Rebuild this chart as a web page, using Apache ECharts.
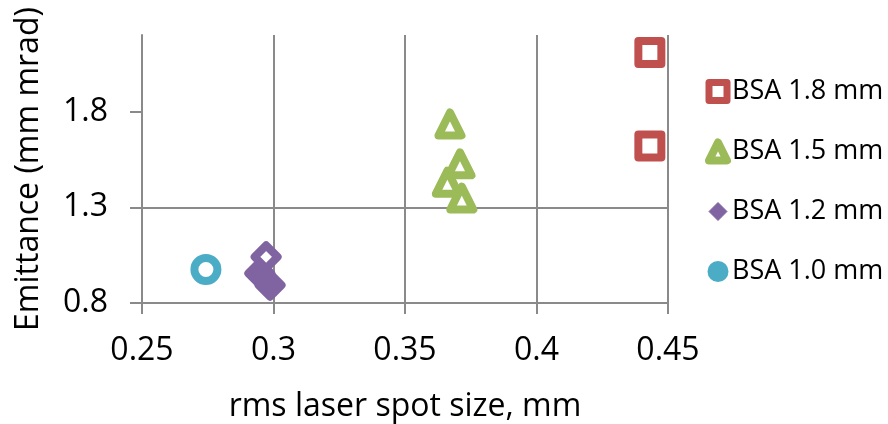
<!DOCTYPE html>
<html>
<head>
<meta charset="utf-8">
<script src="https://cdn.jsdelivr.net/npm/echarts@6/dist/echarts.min.js"></script>
<style>
  html, body { margin: 0; padding: 0; background: #fff; }
  #chart { width: 888px; height: 424px; }
</style>
</head>
<body>
<div id="chart"></div>
<script>
// valores
var bsa18X = [0.4431, 0.4431];
var bsa18Y = [2.109, 1.620];
var bsa15X = [0.3671, 0.3709, 0.3661, 0.3716];
var bsa15Y = [1.735, 1.527, 1.431, 1.348];
var bsa12X = [0.2948, 0.2987, 0.2972];
var bsa12Y = [0.955, 0.893, 1.041];
var bsa10X = [0.2743];
var bsa10Y = [0.975];

var nombres = ['BSA 1.8 mm', 'BSA 1.5 mm', 'BSA 1.2 mm', 'BSA 1.0 mm'];
var colores = ['#C0504D', '#9BBB59', '#8064A2', '#4BACC6'];
var simbolos = ['rect', 'triangle', 'diamond', 'circle'];
var ticksX = [0.25, 0.3, 0.35, 0.4, 0.45];
var ticksY = [0.8, 1.3, 1.8];
// en BSA 1.2 los dos puntos de abajo salen rellenos
var rellenos12 = [true, true, false];

var fuente = 'Open Sans';
var gris = '#8a8a8a';

function juntar(xs, ys, rellenos, color) {
  var res = [];
  for (var i = 0; i < xs.length; i++) {
    var p = { value: [xs[i], ys[i]] };
    if (rellenos && rellenos[i]) p.itemStyle = { color: color };
    res.push(p);
  }
  return res;
}

var datos = [
  juntar(bsa18X, bsa18Y),
  juntar(bsa15X, bsa15Y),
  juntar(bsa12X, bsa12Y, rellenos12, colores[2]),
  juntar(bsa10X, bsa10Y)
];

var series = [];
for (var i = 0; i < nombres.length; i++) {
  series.push({
    name: nombres[i],
    type: 'scatter',
    symbol: simbolos[i],
    symbolSize: 23,
    data: datos[i],
    itemStyle: { color: '#fff', borderColor: colores[i], borderWidth: 8, borderJoin: 'round', opacity: 1 }
  });
}

var legendData = [
  { name: nombres[0], icon: 'rect', itemStyle: { color: '#fff', borderColor: colores[0], borderWidth: 7, borderJoin: 'round' } },
  { name: nombres[1], icon: 'triangle', itemStyle: { color: '#fff', borderColor: colores[1], borderWidth: 8, borderJoin: 'round' } },
  { name: nombres[2], icon: 'diamond', itemStyle: { color: colores[2], borderColor: colores[2], borderWidth: 1 } },
  { name: nombres[3], icon: 'circle', itemStyle: { color: colores[3], borderColor: colores[3], borderWidth: 3 } }
];

var myChart = echarts.init(document.getElementById('chart'), null, { renderer: 'canvas' });
myChart.setOption({
  animation: false,
  textStyle: { fontFamily: fuente },
  grid: { left: 142, right: 220, top: 35, bottom: 121, outerBoundsMode: 'none', containLabel: false },
  legend: {
    orient: 'vertical',
    left: 700,
    top: 73,
    itemWidth: 18,
    itemHeight: 18,
    itemGap: 33,
    data: legendData,
    textStyle: { fontFamily: fuente, fontSize: 27, color: '#000', lineHeight: 26, padding: [0, 0, 0, 0] }
  },
  xAxis: {
    type: 'value',
    min: 0.25,
    max: 0.45,
    interval: 0.05,
    name: 'rms laser spot size, mm',
    nameLocation: 'middle',
    nameGap: 88,
    nameTextStyle: { fontFamily: fuente, fontSize: 32, color: '#000' },
    axisLine: { show: true, onZero: false, lineStyle: { color: gris, width: 2 } },
    axisTick: { show: true, inside: false, length: 11, lineStyle: { color: gris, width: 2 } },
    axisLabel: { fontFamily: fuente, fontSize: 32, color: '#000', margin: 32 },
    splitLine: { show: true, lineStyle: { color: gris, width: 2 } }
  },
  yAxis: {
    type: 'value',
    min: 0.8,
    max: 2.2,
    interval: 0.5,
    name: 'Emittance (mm mrad)',
    nameLocation: 'middle',
    nameGap: 97,
    nameRotate: 90,
    nameTextStyle: { fontFamily: fuente, fontSize: 32, color: '#000' },
    axisLine: { show: true, onZero: false, lineStyle: { color: gris, width: 2 } },
    axisTick: { show: true, inside: false, length: 12, customValues: ticksY, lineStyle: { color: gris, width: 2 } },
    axisLabel: { fontFamily: fuente, fontSize: 32, color: '#000', margin: 34, customValues: ticksY },
    splitLine: { show: true, showMaxLine: false, lineStyle: { color: gris, width: 2 } }
  },
  series: series
});
</script>
</body>
</html>
